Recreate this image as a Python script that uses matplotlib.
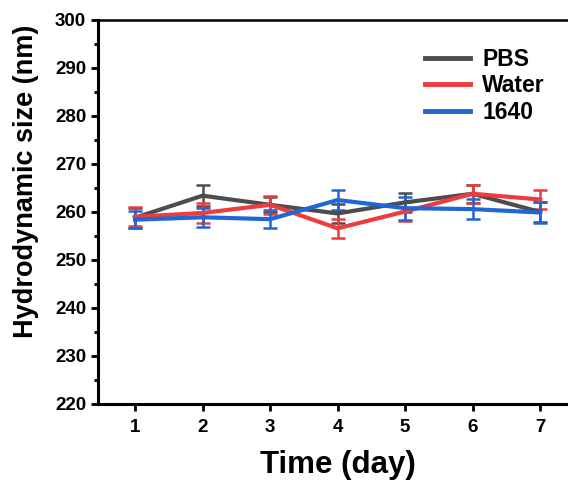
import numpy as np
import matplotlib
matplotlib.use("Agg")
import matplotlib.pyplot as plt
from matplotlib.ticker import MultipleLocator
from matplotlib.lines import Line2D

plt.rcParams['font.family'] = ['Liberation Sans', 'DejaVu Sans']
plt.rcParams['font.weight'] = 'bold'

# data
days = [1, 2, 3, 4, 5, 6, 7]
pbs = [258.8, 263.4, 261.5, 259.7, 262.0, 263.8, 260.0]
pbs_err = [2.1, 2.2, 1.6, 1.9, 2.0, 1.9, 2.0]
water = [259.0, 259.8, 261.5, 256.6, 260.1, 263.8, 262.6]
water_err = [2.0, 2.1, 1.9, 2.0, 2.0, 1.9, 2.0]
cell1640 = [258.4, 258.9, 258.5, 262.5, 260.8, 260.6, 259.9]
cell1640_err = [1.8, 2.0, 1.9, 2.0, 2.4, 2.1, 2.2]

fig = plt.figure(figsize=(5.68, 4.84), dpi=100)
ax = fig.add_axes([98/568, 80/484, 480/568, 384/484])

ax.errorbar(days, pbs, yerr=pbs_err, color='#4d4d4d', lw=3, elinewidth=1.8,
            capsize=5, capthick=1.8, label='PBS')
ax.errorbar(days, water, yerr=water_err, color='#ee3b3e', lw=3, elinewidth=1.8,
            capsize=5, capthick=1.8, label='Water')
ax.errorbar(days, cell1640, yerr=cell1640_err, color='#1f66d6', lw=3, elinewidth=1.8,
            capsize=5, capthick=1.8, label='1640')

ax.set_xlim(0.452, 7.56)
ax.set_ylim(220, 300)
ax.set_xticks(days)
ax.yaxis.set_major_locator(MultipleLocator(10))
ax.yaxis.set_minor_locator(MultipleLocator(5))

ax.spines['right'].set_visible(False)
ax.spines['left'].set_linewidth(2.2)
ax.spines['bottom'].set_linewidth(2.2)
ax.spines['top'].set_linewidth(1.8)

ax.tick_params(axis='both', which='major', direction='out', length=5, width=2,
               labelsize=13.5)
ax.tick_params(axis='y', which='minor', direction='out', length=3, width=2)
ax.tick_params(axis='x', which='major', pad=6)
for t in ax.get_xticklabels() + ax.get_yticklabels():
    t.set_fontweight('bold')

ax.set_xlabel('Time (day)', fontsize=22.5, fontweight='bold', labelpad=10)
ax.set_ylabel('Hydrodynamic size (nm)', fontsize=19.5, fontweight='bold', labelpad=10)
ax.yaxis.set_label_coords(-0.122, 0.58)

handles, labels = ax.get_legend_handles_labels()
hl = [Line2D([], [], color=h[0].get_color(), lw=3.5) for h in handles]
ax.legend(hl, labels, loc='upper left', bbox_to_anchor=(0.681, 0.927),
          frameon=False, borderpad=0, borderaxespad=0,
          handlelength=1.95, handletextpad=0.55,
          labelspacing=0.15, prop={'weight': 'bold', 'size': 16.5})

fig.savefig('out.png', dpi=100)
